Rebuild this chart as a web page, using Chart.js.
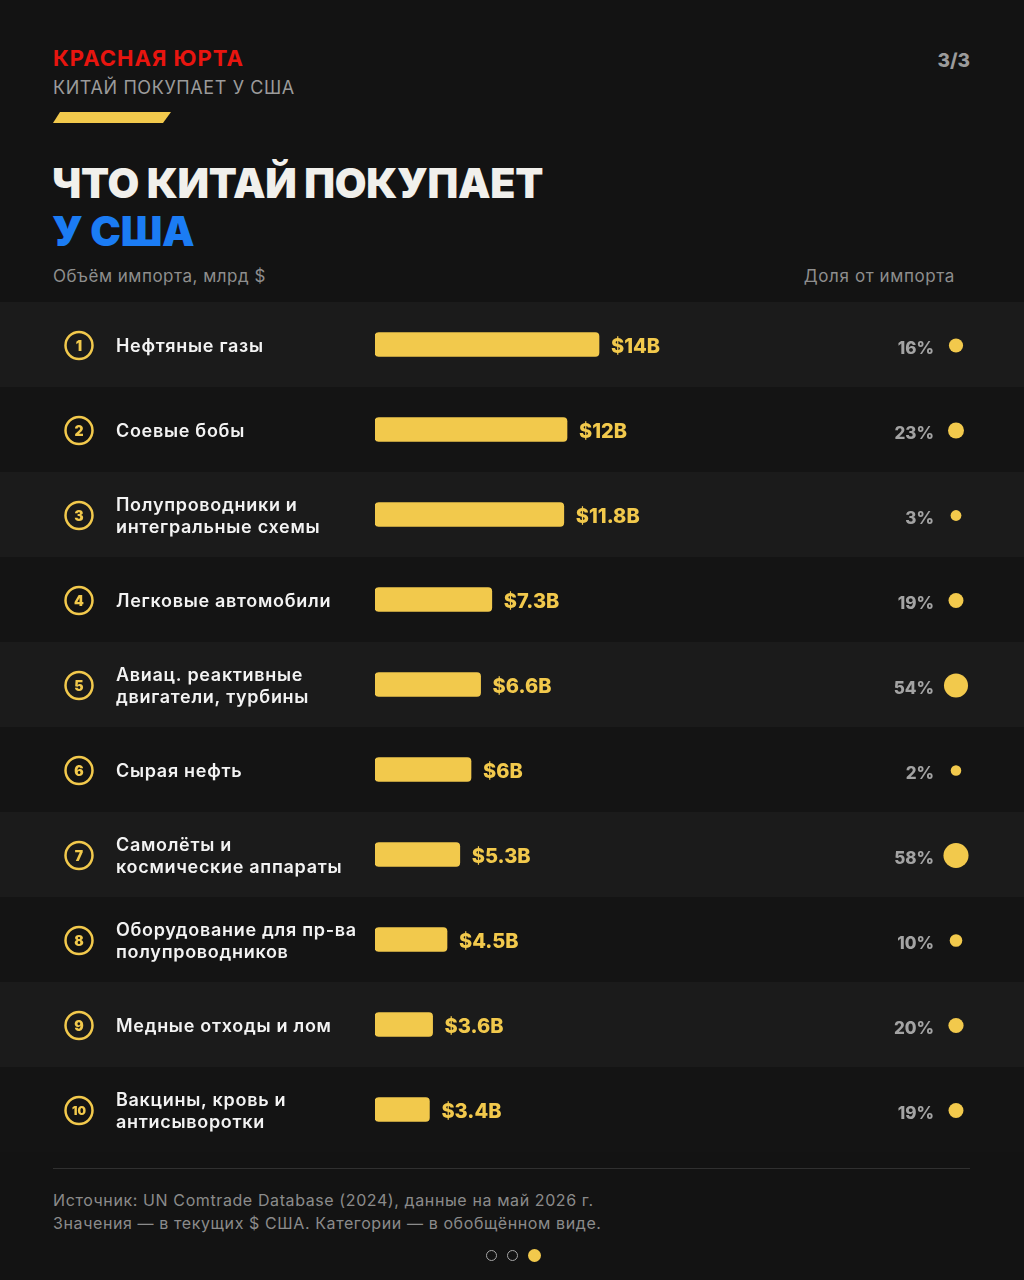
<!DOCTYPE html>
<html lang="ru">
<head>
<meta charset="utf-8">
<script src="https://cdn.jsdelivr.net/npm/chart.js@4.4.1/dist/chart.umd.min.js"></script>
<style>
  html, body { margin: 0; padding: 0; background: #131313; }
  body { width: 1024px; height: 1280px; position: relative; overflow: hidden; font-family: Inter, "Noto Sans", sans-serif; }
  .abs { position: absolute; white-space: nowrap; }
  #brand { left: 53px; top: 45px; font-size: 22px; font-weight: 700; color: #e8150f; letter-spacing: 1px; }
  #kicker { left: 53px; top: 77px; font-size: 18px; font-weight: 400; color: #9b9b9b; letter-spacing: 0.6px; }
  #stripe { left: 53px; top: 112px; width: 118px; height: 11px; background: #f2c94c;
            clip-path: polygon(7px 0, 118px 0, 110px 11px, 0 11px); }
  #page { right: 54px; top: 49px; font-size: 19px; font-weight: 800; color: #9b9b9b; }
  #title1 { left: 52px; top: 158px; font-size: 41px; font-weight: 900; color: #f1f0ec; letter-spacing: -0.3px; }
  #title2 { left: 52px; top: 206px; font-size: 41px; font-weight: 900; color: #1b7cf4; letter-spacing: -0.3px; }
  #axisL { left: 53px; top: 266px; font-size: 17px; color: #8e8e8e; letter-spacing: 0.5px; }
  #axisR { right: 69px; top: 266px; font-size: 17px; color: #8e8e8e; letter-spacing: 0.6px; }
  #wrap { position: absolute; left: 0; top: 302px; width: 1024px; height: 850px; }
  #rule { left: 53px; top: 1168px; width: 917px; height: 1px; background: #303030; }
  #src { left: 53px; top: 1189px; font-size: 16px; line-height: 23px; color: #8b8b8b; letter-spacing: 0.6px; }
  #dots { left: 485.5px; top: 1248px; height: 14px; display: flex; gap: 10px; align-items: center; }
  #dots span { border: 1.5px solid #a5a5a5; border-radius: 50%; box-sizing: border-box; display: block; width: 11px; height: 11px; }
  #dots span.on { border: none; background: #f2c94c; width: 13px; height: 13px; }
</style>
</head>
<body>
<div class="abs" id="brand">КРАСНАЯ ЮРТА</div>
<div class="abs" id="kicker">КИТАЙ ПОКУПАЕТ У США</div>
<div class="abs" id="stripe"></div>
<div class="abs" id="page">3/3</div>
<div class="abs" id="title1">ЧТО КИТАЙ ПОКУПАЕТ</div>
<div class="abs" id="title2">У США</div>
<div class="abs" id="axisL">Объём импорта, млрд $</div>
<div class="abs" id="axisR">Доля от импорта</div>
<div id="wrap"><canvas id="importChart"></canvas></div>
<div class="abs" id="rule"></div>
<div class="abs" id="src">Источник: UN Comtrade Database (2024), данные на май 2026 г.<br>Значения — в текущих $ США. Категории — в обобщённом виде.</div>
<div class="abs" id="dots"><span></span><span></span><span class="on"></span></div>

<script>
const categories = [
  'Нефтяные газы',
  'Соевые бобы',
  'Полупроводники и\nинтегральные схемы',
  'Легковые автомобили',
  'Авиац. реактивные\nдвигатели, турбины',
  'Сырая нефть',
  'Самолёты и\nкосмические аппараты',
  'Оборудование для пр-ва\nполупроводников',
  'Медные отходы и лом',
  'Вакцины, кровь и\nантисыворотки'
];
const importValues = [14, 12, 11.8, 7.3, 6.6, 6, 5.3, 4.5, 3.6, 3.4];
const valueLabels = ['$14B', '$12B', '$11.8B', '$7.3B', '$6.6B', '$6B', '$5.3B', '$4.5B', '$3.6B', '$3.4B'];
const shareOfImport = [16, 23, 3, 19, 54, 2, 58, 10, 20, 19];

const YELLOW = '#f2c94c';
const FONT = 'Inter, "Noto Sans", sans-serif';

// bands, rank circles, names, value tags and the share column
const rowDecor = {
  id: 'rowDecor',
  beforeDraw(chart) {
    const { ctx, scales: { y }, width } = chart;
    const band = y.height / categories.length;
    ctx.save();
    categories.forEach((c, i) => {
      const top = y.getPixelForValue(i) - band / 2;
      ctx.fillStyle = i % 2 === 0 ? '#1b1b1b' : '#141414';
      ctx.fillRect(0, top, width, band);
    });
    ctx.restore();
  },
  afterDatasetsDraw(chart) {
    const { ctx, scales: { x, y } } = chart;
    ctx.save();
    categories.forEach((name, i) => {
      const cy = y.getPixelForValue(i);

      // rank circle
      ctx.letterSpacing = '0px';
      ctx.beginPath();
      ctx.arc(79, cy + 1, 13.5, 0, Math.PI * 2);
      ctx.strokeStyle = YELLOW;
      ctx.lineWidth = 2.5;
      ctx.stroke();
      ctx.fillStyle = YELLOW;
      ctx.font = `900 ${i === 9 ? 12 : 14}px ${FONT}`;
      ctx.textAlign = 'center';
      ctx.textBaseline = 'middle';
      ctx.fillText(String(i + 1), 79, cy + 2);

      // category name
      const lines = name.split('\n');
      ctx.fillStyle = '#f3f3f3';
      ctx.font = `600 18px ${FONT}`;
      ctx.letterSpacing = '0.7px';
      ctx.textAlign = 'left';
      lines.forEach((ln, k) => {
        const off = (k - (lines.length - 1) / 2) * 22;
        ctx.fillText(ln, 116, cy + 2 + off);
      });

      // value tag
      ctx.letterSpacing = '0px';
      ctx.fillStyle = YELLOW;
      ctx.font = `800 20px ${FONT}`;
      ctx.fillText(valueLabels[i], x.getPixelForValue(importValues[i]) + 12, cy + 2);

      // share text and dot
      ctx.fillStyle = '#a3a3a3';
      ctx.font = `800 17px ${FONT}`;
      ctx.textAlign = 'right';
      ctx.fillText(shareOfImport[i] + '%', 934, cy + 4);
      const r = 5 + 0.13 * shareOfImport[i];
      ctx.beginPath();
      ctx.arc(956, cy + 1, r, 0, Math.PI * 2);
      ctx.fillStyle = YELLOW;
      ctx.fill();
    });
    ctx.restore();
  }
};

new Chart(document.getElementById('importChart').getContext('2d'), {
  type: 'bar',
  data: {
    labels: categories,
    datasets: [{
      label: 'Объём импорта, млрд $',
      data: importValues,
      backgroundColor: YELLOW,
      borderRadius: 4,
      borderSkipped: false,
      barThickness: 24
    }]
  },
  options: {
    indexAxis: 'y',
    responsive: true,
    maintainAspectRatio: false,
    animation: false,
    layout: { padding: { left: 375, right: 9, top: 0, bottom: 0 } },
    scales: {
      x: { min: 0, max: 40, display: false, grid: { display: false } },
      y: { display: false, grid: { display: false } }
    },
    plugins: {
      legend: { display: false },
      tooltip: { enabled: false }
    }
  },
  plugins: [rowDecor]
});
</script>
</body>
</html>
